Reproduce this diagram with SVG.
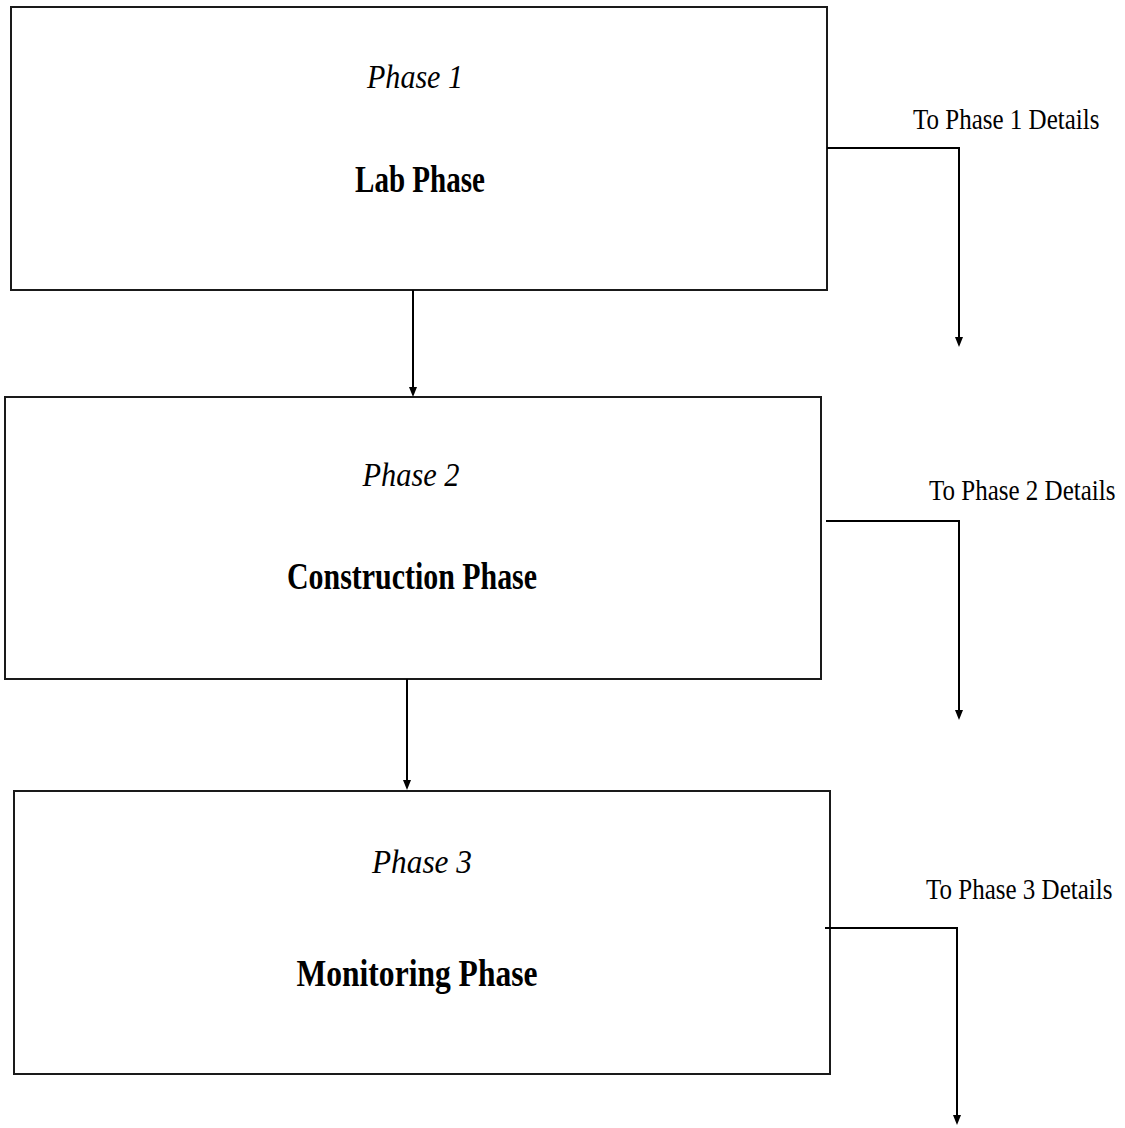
<svg xmlns="http://www.w3.org/2000/svg" width="1125" height="1128" viewBox="0 0 1125 1128">
  <style>
    .box { fill: #ffffff; stroke: #1a1a1a; stroke-width: 2; }
    .link { fill: none; stroke: #000000; stroke-width: 2; }
    .head { fill: #000000; }
    .phase { font-family: "Liberation Serif", "Times New Roman", serif; font-style: italic; font-size: 33px; fill: #000000; }
    .title { font-family: "Liberation Serif", "Times New Roman", serif; font-weight: bold; font-size: 38px; fill: #000000; }
    .note { font-family: "Liberation Serif", "Times New Roman", serif; font-size: 25px; fill: #000000; }
  </style>
  <rect width="1125" height="1128" fill="#ffffff"/>

  <g id="lab-phase">
    <rect class="box" x="11" y="7" width="816" height="283"/>
    <text class="phase" x="415" y="88" text-anchor="middle" textLength="96" lengthAdjust="spacingAndGlyphs">Phase 1</text>
    <text class="title" x="420" y="192" text-anchor="middle" textLength="130" lengthAdjust="spacingAndGlyphs">Lab Phase</text>
  </g>

  <g id="construction-phase">
    <rect class="box" x="5" y="397" width="816" height="282"/>
    <text class="phase" x="411" y="486" text-anchor="middle" textLength="97" lengthAdjust="spacingAndGlyphs">Phase 2</text>
    <text class="title" x="412" y="589" text-anchor="middle" textLength="250" lengthAdjust="spacingAndGlyphs">Construction Phase</text>
  </g>

  <g id="monitoring-phase">
    <rect class="box" x="14" y="791" width="816" height="283"/>
    <text class="phase" x="422" y="873" text-anchor="middle" textLength="100" lengthAdjust="spacingAndGlyphs">Phase 3</text>
    <text class="title" x="417" y="986" text-anchor="middle" textLength="241" lengthAdjust="spacingAndGlyphs">Monitoring Phase</text>
  </g>

  <!-- side labels: narrow serif, stretched a little in height -->
  <g id="detail-labels">
    <text class="note" transform="translate(913,129) scale(1,1.2)">To Phase 1 Details</text>
    <text class="note" transform="translate(929,500) scale(1,1.2)">To Phase 2 Details</text>
    <text class="note" transform="translate(926,899) scale(1,1.2)">To Phase 3 Details</text>
  </g>

  <g id="connectors">
    <!-- phase to phase -->
    <path class="link" d="M413,290 V387"/>
    <path class="head" d="M409,387 L417,387 L413,397 Z"/>
    <path class="link" d="M407,679 V780"/>
    <path class="head" d="M403,780 L411,780 L407,790 Z"/>
    <!-- phase to details -->
    <path class="link" d="M827,148 H959 V337"/>
    <path class="head" d="M955,337 L963,337 L959,347 Z"/>
    <path class="link" d="M826,521 H959 V710"/>
    <path class="head" d="M955,710 L963,710 L959,720 Z"/>
    <path class="link" d="M825,928 H957 V1115"/>
    <path class="head" d="M953,1115 L961,1115 L957,1125 Z"/>
  </g>
</svg>
